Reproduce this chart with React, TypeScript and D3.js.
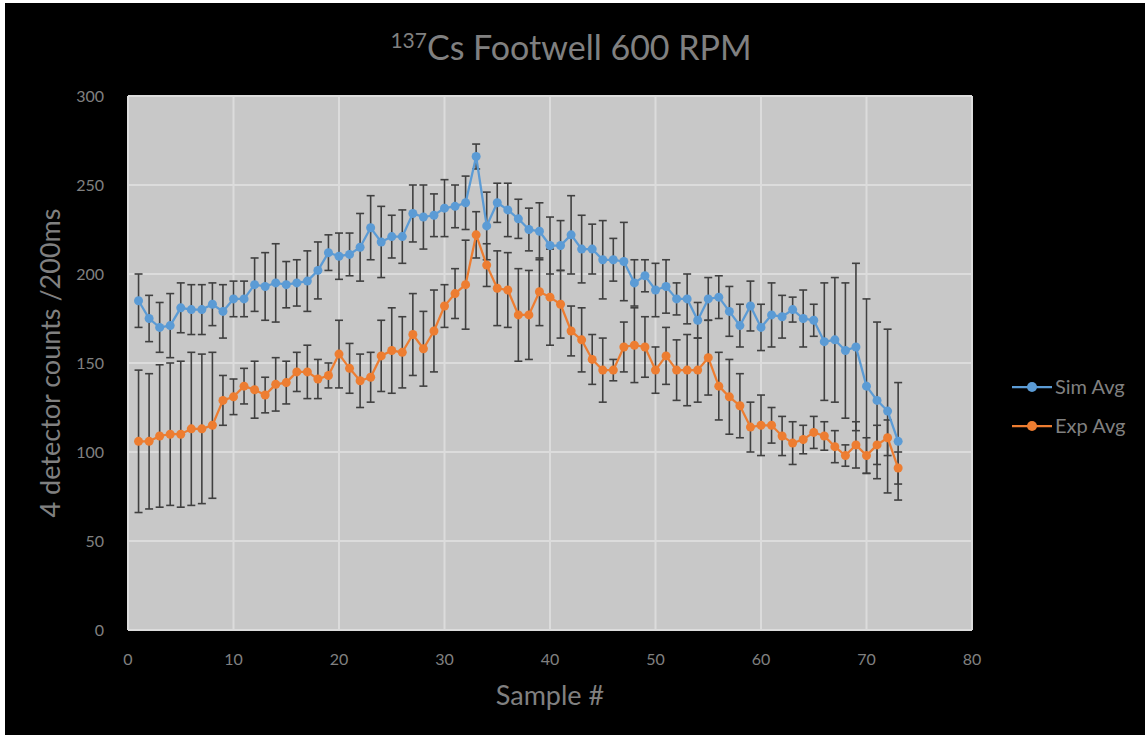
import { useMemo } from 'react';
import * as d3 from 'd3';

// sample numbers 1..73
const samples = [
  1, 2, 3, 4, 5, 6, 7, 8, 9, 10, 11, 12, 13, 14, 15, 16, 17, 18, 19, 20, 21, 22, 23, 24, 25, 26, 27,
  28, 29, 30, 31, 32, 33, 34, 35, 36, 37, 38, 39, 40, 41, 42, 43, 44, 45, 46, 47, 48, 49, 50, 51, 52,
  53, 54, 55, 56, 57, 58, 59, 60, 61, 62, 63, 64, 65, 66, 67, 68, 69, 70, 71, 72, 73,
];

const simAvg = [
  185, 175, 170, 171, 181, 180, 180, 183, 179, 186, 186, 194, 193, 195, 194, 195, 196, 202, 212,
  210, 211, 215, 226, 218, 221, 221, 234, 232, 233, 237, 238, 240, 266, 227, 240, 236, 231, 225,
  224, 216, 216, 222, 214, 214, 208, 208, 207, 195, 199, 191, 193, 186, 186, 174, 186, 187, 179,
  171, 182, 170, 177, 176, 180, 175, 174, 162, 163, 157, 159, 137, 129, 123, 106,
];
const simErr = [
  15, 13, 14, 18, 14, 14, 14, 12, 15, 10, 10, 15, 19, 22, 13, 13, 17, 16, 10, 13, 12, 19, 18, 20,
  12, 15, 16, 18, 12, 16, 12, 15, 7, 19, 11, 15, 11, 12, 16, 16, 14, 22, 19, 14, 22, 12, 22, 13, 9,
  15, 15, 9, 14, 10, 12, 12, 14, 12, 14, 13, 18, 12, 7, 16, 9, 33, 35, 38, 47, 49, 44, 46, 33,
];

const expAvg = [
  106, 106, 109, 110, 110, 113, 113, 115, 129, 131, 137, 135, 132, 138, 139, 145, 145, 141, 143,
  155, 147, 140, 142, 154, 157, 156, 166, 158, 168, 182, 189, 194, 222, 205, 192, 191, 177, 177,
  190, 187, 183, 168, 163, 152, 146, 146, 159, 160, 159, 146, 154, 146, 146, 146, 153, 137, 131,
  126, 114, 115, 115, 109, 105, 107, 111, 109, 103, 98, 104, 98, 104, 108, 91,
];
const expErr = [
  40, 38, 40, 40, 41, 43, 42, 41, 14, 10, 10, 16, 10, 15, 12, 11, 15, 11, 7, 19, 14, 15, 14, 20,
  24, 20, 23, 21, 23, 12, 14, 25, 13, 12, 21, 21, 26, 25, 19, 27, 19, 14, 18, 14, 18, 6, 14, 21,
  17, 13, 16, 17, 20, 18, 21, 19, 21, 18, 14, 17, 10, 11, 12, 8, 9, 8, 9, 6, 13, 10, 11, 10, 9,
];

const xTicks = [0, 10, 20, 30, 40, 50, 60, 70, 80];
const yTicks = [0, 50, 100, 150, 200, 250, 300];

const seriesNames = ['Sim Avg', 'Exp Avg'];
const seriesColors = ['#5b9bd5', '#ed7d31'];

const W = 1145;
const H = 735;
const margin = { top: 96, right: 173, bottom: 105, left: 128 };
const font = 'Lato, "Open Sans", sans-serif';
const textColor = '#808080';

export default function App() {
  const innerW = W - margin.left - margin.right;
  const innerH = H - margin.top - margin.bottom;

  const x = useMemo(() => d3.scaleLinear().domain([0, 80]).range([0, innerW]), [innerW]);
  const y = useMemo(() => d3.scaleLinear().domain([0, 300]).range([innerH, 0]), [innerH]);

  const series = [
    { name: seriesNames[0], color: seriesColors[0], vals: simAvg, errs: simErr },
    { name: seriesNames[1], color: seriesColors[1], vals: expAvg, errs: expErr },
  ];

  const line = d3
    .line<number>()
    .x((_, i) => x(samples[i]))
    .y((d) => y(d));

  return (
    <svg
      width={W}
      height={H}
      style={{ position: 'absolute', left: 0, top: 0, background: '#fff' }}
    >
      <rect x={5} y={3} width={W - 5} height={H - 3} fill="#000" />
      <text
        x={571}
        y={60}
        textAnchor="middle"
        fill={textColor}
        fontFamily={font}
        fontSize={34}
      >
        <tspan fontSize={21} dy={-12}>137</tspan>
        <tspan dy={12}>Cs Footwell 600 RPM</tspan>
      </text>

      <g transform={`translate(${margin.left},${margin.top})`}>
        <rect width={innerW} height={innerH} fill="#c8c8c8" />
        {yTicks.map((t) => (
          <line key={`gy${t}`} x1={0} x2={innerW} y1={y(t)} y2={y(t)} stroke="#dcdcdc" strokeWidth={2} />
        ))}
        {xTicks.map((t) => (
          <line key={`gx${t}`} x1={x(t)} x2={x(t)} y1={0} y2={innerH} stroke="#dcdcdc" strokeWidth={2} />
        ))}

        {yTicks.map((t) => (
          <text
            key={`ty${t}`}
            x={-24}
            y={y(t)}
            dy="0.35em"
            textAnchor="end"
            fill={textColor}
            fontFamily={font}
            fontSize={16}
          >
            {t}
          </text>
        ))}
        {xTicks.map((t) => (
          <text
            key={`tx${t}`}
            x={x(t)}
            y={innerH + 35}
            textAnchor="middle"
            fill={textColor}
            fontFamily={font}
            fontSize={16}
          >
            {t}
          </text>
        ))}

        {series.map((s) => (
          <g key={`e${s.name}`} stroke="#404040" strokeWidth={1.6}>
            {s.vals.map((v, i) => {
              const cx = x(samples[i]);
              const y1 = y(v + s.errs[i]);
              const y2 = y(v - s.errs[i]);
              return (
                <g key={i}>
                  <line x1={cx} x2={cx} y1={y1} y2={y2} />
                  <line x1={cx - 4} x2={cx + 4} y1={y1} y2={y1} />
                  <line x1={cx - 4} x2={cx + 4} y1={y2} y2={y2} />
                </g>
              );
            })}
          </g>
        ))}

        {series.map((s) => (
          <g key={`s${s.name}`}>
            <path d={line(s.vals) ?? ''} fill="none" stroke={s.color} strokeWidth={2.25} />
            {s.vals.map((v, i) => (
              <circle key={i} cx={x(samples[i])} cy={y(v)} r={4.5} fill={s.color} />
            ))}
          </g>
        ))}
      </g>

      <text
        x={margin.left + innerW / 2}
        y={705}
        textAnchor="middle"
        fill={textColor}
        fontFamily={font}
        fontSize={27}
      >
        Sample #
      </text>
      <text
        transform={`translate(60,${margin.top + innerH / 2}) rotate(-90)`}
        textAnchor="middle"
        fill={textColor}
        fontFamily={font}
        fontSize={27}
      >
        4 detector counts /200ms
      </text>

      {series.map((s, i) => {
        const ly = 387 + i * 39;
        return (
          <g key={`l${s.name}`}>
            <line x1={1012} x2={1052} y1={ly} y2={ly} stroke={s.color} strokeWidth={2.25} />
            <circle cx={1032} cy={ly} r={5} fill={s.color} />
            <text x={1055} y={ly} dy="0.35em" fill={textColor} fontFamily={font} fontSize={20}>
              {s.name}
            </text>
          </g>
        );
      })}
    </svg>
  );
}
